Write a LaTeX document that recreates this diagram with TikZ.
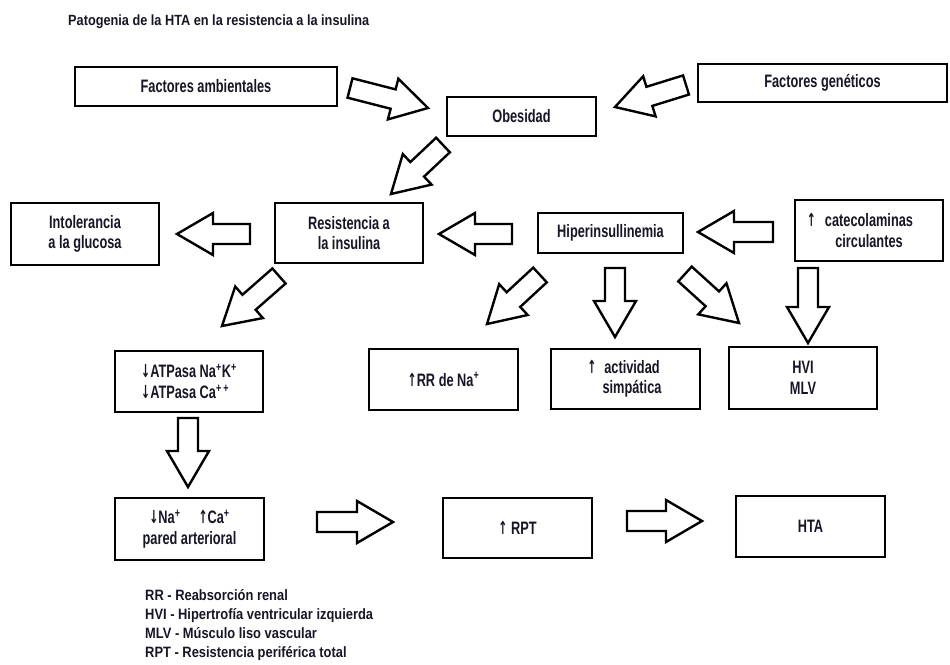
\documentclass[tikz,border=0pt]{standalone}
\usepackage{fontspec}
\setmainfont{Liberation Sans}[FakeStretch=0.71]
\newfontfamily\legfont{Liberation Sans}[FakeStretch=0.86]
\newfontfamily\arrowfont{DejaVu Sans}[FakeStretch=0.6]
\usetikzlibrary{calc}
\definecolor{txt}{RGB}{22,22,38}
\newcommand\up{{\arrowfont\char"2191}}
\newcommand\dn{{\arrowfont\char"2193}}
\newcommand\sps[1]{\textsuperscript{#1}}
\newcommand\blockarr[2]{%
  \coordinate (ba-c) at ($(#2)!36pt!(#1)$);
  \draw[blockarrow] ($(#1)!10pt!90:(#2)$) -- ($(ba-c)!10pt!-90:(#1)$)
    -- ($(ba-c)!21pt!-90:(#1)$) -- (#2) -- ($(ba-c)!21pt!90:(#1)$)
    -- ($(ba-c)!10pt!90:(#1)$) -- ($(#1)!10pt!-90:(#2)$) -- cycle;}
\begin{document}
\begin{tikzpicture}[x=1pt,y=-1pt,
  box/.style={draw, line width=1.9pt, inner sep=0pt, align=center,
    font=\fontsize{18}{20.5}\selectfont\bfseries, text=txt},
  blockarrow/.style={draw, line width=2.4pt, line join=miter, fill=white},
  legend/.style={anchor=base west, inner sep=0pt, text=txt,
    font=\legfont\fontsize{15}{17}\selectfont\bfseries}]
\useasboundingbox (0,0) rectangle (950,664);

% title
\node[legend, font=\legfont\fontsize{14.8}{17}\selectfont\bfseries] (title) at (68,25) {Patogenia de la HTA en la resistencia a la insulina};

% boxes
\node[box, minimum width=262pt, minimum height=39pt] (amb) at (206,86.5) {Factores ambientales};
\node[box, minimum width=249pt, minimum height=38pt] (gen) at (822.5,83) {Factores genéticos};
\node[box, minimum width=149pt, minimum height=39pt] (obes) at (521.5,116.5) {Obesidad};
\node[box, minimum width=148pt, minimum height=62pt] (intol) at (85,234) {Intolerancia\\a la glucosa};
\node[box, minimum width=148pt, minimum height=60pt] (resist) at (349,233) {Resistencia a\\la insulina};
\node[box, minimum width=145pt, minimum height=40pt] (hiper) at (610.5,233) {Hiperinsullinemia};
\node[box, minimum width=148pt, minimum height=61pt] (cate) at (869,230.5) {\llap{\up\hspace{9pt}}catecolaminas\\circulantes};
\node[box, minimum width=148pt, minimum height=61pt, align=left] (atp) at (189,381.5) {\dn ATPasa Na\sps{+}K\sps{+}\\\dn ATPasa Ca\sps{+\,+}};
\node[box, minimum width=149pt, minimum height=61pt] (rr) at (443.5,379.5) {\up RR de Na\sps{+}};
\node[box, minimum width=149pt, minimum height=60pt] (act) at (625.5,379) {\llap{\up\hspace{8pt}}actividad\hspace*{-13pt}\\simpática\hspace*{-13pt}};
\node[box, minimum width=148pt, minimum height=62pt] (hvi) at (803,378) {HVI\\MLV};
\node[box, minimum width=149pt, minimum height=62pt] (na) at (189.5,529) {\dn Na\sps{+}\quad\up Ca\sps{+}\\pared arterioral};
\node[box, minimum width=149pt, minimum height=60pt] (rpt) at (517.5,528) {\up\ RPT};
\node[box, minimum width=149pt, minimum height=61pt] (hta) at (810.5,526.5) {HTA};

% block arrow ends
\coordinate (t1) at (350,88);  \coordinate (h1) at (428,108);
\coordinate (t2) at (686,85);  \coordinate (h2) at (615,107);
\coordinate (t3) at (443,145); \coordinate (h3) at (391,194);
\coordinate (t4) at (250,234); \coordinate (h4) at (177,234);
\coordinate (t5) at (512,234); \coordinate (h5) at (439,234);
\coordinate (t6) at (773,232); \coordinate (h6) at (698,232);
\coordinate (t7) at (279,276); \coordinate (h7) at (222,326);
\coordinate (t8) at (540,275); \coordinate (h8) at (487,324);
\coordinate (t9) at (615,268); \coordinate (h9) at (615,337);
\coordinate (t10) at (685,274); \coordinate (h10) at (739,323);
\coordinate (t11) at (808,268); \coordinate (h11) at (808,343);
\coordinate (t12) at (188,418); \coordinate (h12) at (188,487);
\coordinate (t13) at (317,522); \coordinate (h13) at (393,522);
\coordinate (t14) at (627,521); \coordinate (h14) at (702,521);

\blockarr{t1}{h1}
\blockarr{t2}{h2}
\blockarr{t3}{h3}
\blockarr{t4}{h4}
\blockarr{t5}{h5}
\blockarr{t6}{h6}
\blockarr{t7}{h7}
\blockarr{t8}{h8}
\blockarr{t9}{h9}
\blockarr{t10}{h10}
\blockarr{t11}{h11}
\blockarr{t12}{h12}
\blockarr{t13}{h13}
\blockarr{t14}{h14}

% legend
\node[legend] (leg1) at (145,600) {RR - Reabsorción renal};
\node[legend] (leg2) at (145,619) {HVI - Hipertrofía ventricular izquierda};
\node[legend] (leg3) at (145,638) {MLV - Músculo liso vascular};
\node[legend] (leg4) at (145,657) {RPT - Resistencia periférica total};
\end{tikzpicture}
\end{document}
